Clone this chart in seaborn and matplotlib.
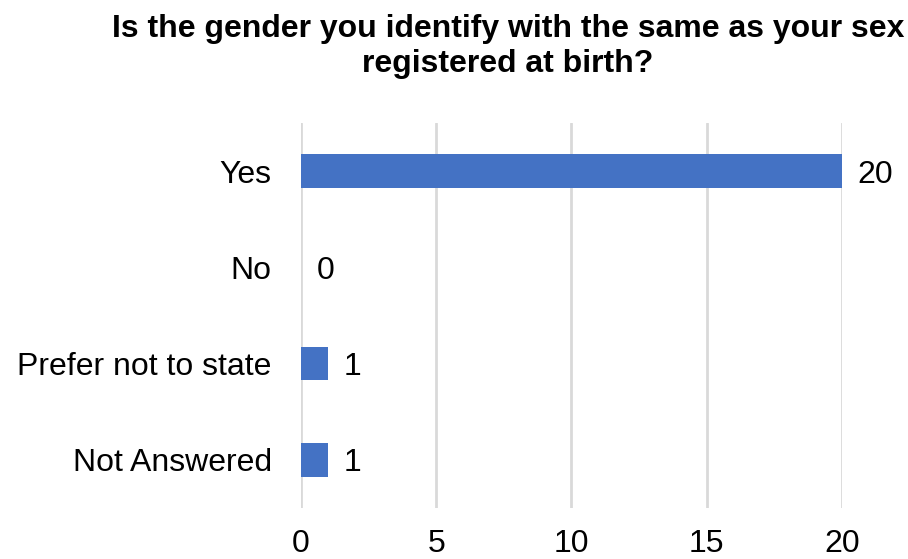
import matplotlib
matplotlib.use("Agg")
import matplotlib.pyplot as plt
import seaborn as sns
import pandas as pd

categories = ["Yes", "No", "Prefer not to state", "Not Answered"]
counts = [20, 0, 1, 1]
x_ticks = [0, 5, 10, 15, 20]
title = "Is the gender you identify with the same as your sex\nregistered at birth?"

sns.set_theme(style="white")
plt.rcParams["font.family"] = ["Liberation Sans", "DejaVu Sans"]

df = pd.DataFrame({"category": categories, "count": counts})

fig = plt.figure(figsize=(9.08, 5.59), dpi=100)
ax = fig.add_axes([0.3315, 0.0912, 0.5958, 0.6887])

sns.barplot(data=df, x="count", y="category", orient="h", color="#4472C4",
            width=0.35, saturation=1, linewidth=0, ax=ax, zorder=3)

ax.set_xlim(0, 20)
ax.set_ylim(3.5, -0.5)
ax.set_xticks(x_ticks)
ax.set_xlabel("")
ax.set_ylabel("")
ax.grid(axis="x", color="#d9d9d9", linewidth=2, zorder=0)
ax.grid(axis="y", visible=False)
for s in ax.spines.values():
    s.set_visible(False)
ax.tick_params(axis="y", length=0, pad=21, labelsize=23, labelcolor="#000000")
ax.tick_params(axis="x", length=0, pad=15, labelsize=23, labelcolor="#000000")

for i, v in enumerate(counts):
    ax.annotate(str(v), xy=(v, i), xytext=(11, 0), textcoords="offset points",
                ha="left", va="center_baseline", fontsize=23, color="#000000")

fig.text(0.5595, 0.975, title, ha="center", va="top", fontsize=23,
         fontweight="bold", linespacing=1.2, color="#000000")

fig.savefig("out.png", dpi=100, facecolor="white")
